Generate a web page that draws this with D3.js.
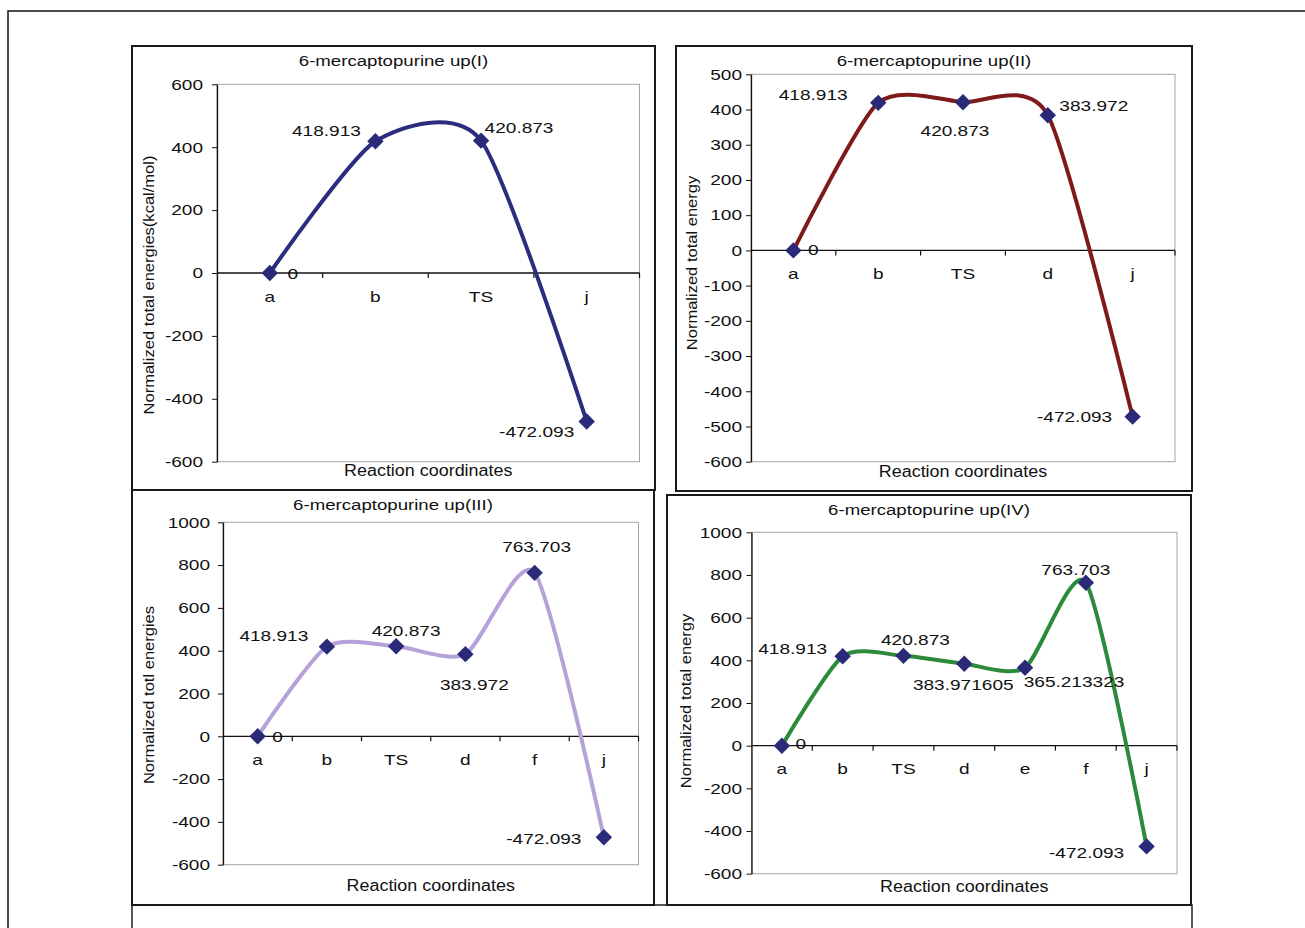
<!DOCTYPE html>
<html>
<head>
<meta charset="utf-8">
<script src="https://cdn.jsdelivr.net/npm/d3@7"></script>
<style>
  body { margin: 0; background: #fff; }
  text { font-family: "Liberation Sans", Arial, sans-serif; fill: #111; }
</style>
</head>
<body>
<div id="chart"></div>
<script>
// data
const catsI = ["a", "b", "TS", "j"];
const valsI = [0, 418.913, 420.873, -472.093];
const ticksI = [-600, -400, -200, 0, 200, 400, 600];

const catsII = ["a", "b", "TS", "d", "j"];
const valsII = [0, 418.913, 420.873, 383.972, -472.093];
const ticksII = [-600, -500, -400, -300, -200, -100, 0, 100, 200, 300, 400, 500];

const catsIII = ["a", "b", "TS", "d", "f", "j"];
const valsIII = [0, 418.913, 420.873, 383.972, 763.703, -472.093];
const ticksIII = [-600, -400, -200, 0, 200, 400, 600, 800, 1000];

const catsIV = ["a", "b", "TS", "d", "e", "f", "j"];
const valsIV = [0, 418.913, 420.873, 383.971605, 365.213323, 763.703, -472.093];
const ticksIV = [-600, -400, -200, 0, 200, 400, 600, 800, 1000];

const titles = ["6-mercaptopurine up(I)", "6-mercaptopurine up(II)", "6-mercaptopurine up(III)", "6-mercaptopurine up(IV)"];
const yTitles = ["Normalized total energies(kcal/mol)", "Normalized total energy", "Normalized totl energies", "Normalized total energy"];
const xTitle = "Reaction coordinates";

const width = 1305, height = 928;

// layout of each panel (box, plot area, label nudges)
const panels = [
  { cats: catsI, vals: valsI, ticks: ticksI, color: "#2d2d80",
    box: [132, 46, 655, 490], plot: [217, 84.3, 639.5, 461.7], tickPad: 9,
    xtDy: 9, ytX: 149, ytY: 285,
    lab: [[23, 0], [-49, -11], [38, -13], [-50, 10]] },
  { cats: catsII, vals: valsII, ticks: ticksII, color: "#7e1a1a",
    box: [676, 46, 1192, 491], plot: [751, 74.3, 1175, 461.7], tickPad: 4,
    xtDy: 10, ytX: 692, ytY: 263,
    lab: [[20, -1], [-65, -8], [-8, 28], [46, -10], [-58, 0]] },
  { cats: catsIII, vals: valsIII, ticks: ticksIII, color: "#b4a2d8",
    box: [132, 490, 654, 905], plot: [223, 522.3, 638.5, 864.7], tickPad: 8,
    xtDy: 21, ytX: 149, ytY: 695,
    lab: [[20, 0], [-53, -11], [10, -16], [9, 30], [2, -26], [-60, 1]] },
  { cats: catsIV, vals: valsIV, ticks: ticksIV, color: "#2b8a3c",
    box: [667, 495, 1191, 905], plot: [751.5, 532.3, 1177, 873.7], tickPad: 4.5,
    xtDy: 13, ytX: 686, ytY: 701,
    lab: [[19, -2], [-50, -8], [12, -16], [-1, 21], [49, 14], [-10, -13], [-60, 6]] }
];

const svg = d3.select("#chart").append("svg")
  .attr("width", width)
  .attr("height", height);

// page frame and the table lines around the figure
svg.append("path")
  .attr("d", "M8,928V11H1305")
  .attr("fill", "none").attr("stroke", "#111").attr("stroke-width", 1.5);
svg.append("path")
  .attr("d", "M132,928V905H1192V928")
  .attr("fill", "none").attr("stroke", "#222").attr("stroke-width", 1.5);

// the scan has wide, stretched lettering
function stretch(sel, k) {
  sel.each(function() {
    const w = this.getComputedTextLength();
    d3.select(this).attr("textLength", w * k).attr("lengthAdjust", "spacingAndGlyphs");
  });
}

panels.forEach((p, i) => {
  const [bx0, by0, bx1, by1] = p.box;
  const [px0, py0, px1, py1] = p.plot;
  const g = svg.append("g");

  g.append("rect")
    .attr("x", bx0).attr("y", by0)
    .attr("width", bx1 - bx0).attr("height", by1 - by0)
    .attr("fill", "#fff").attr("stroke", "#1a1a1a").attr("stroke-width", 2);

  let x = d3.scaleBand().domain(p.cats).range([px0, px1]).padding(0);
  let y = d3.scaleLinear().domain([p.ticks[0], p.ticks[p.ticks.length - 1]]).range([py1, py0]);
  const cx = c => x(c) + x.bandwidth() / 2;

  // plot area frame
  g.append("rect")
    .attr("x", px0).attr("y", py0)
    .attr("width", px1 - px0).attr("height", py1 - py0)
    .attr("fill", "none").attr("stroke", "#a3a3a3").attr("stroke-width", 1);

  // y axis, plain hyphen minus and no thousands separator like the original
  const ya = g.append("g")
    .attr("transform", `translate(${px0},0)`)
    .call(d3.axisLeft(y).tickValues(p.ticks).tickFormat(d => String(d))
      .tickSize(5).tickSizeOuter(0).tickPadding(p.tickPad));
  ya.select(".domain").attr("stroke", "#111").attr("stroke-width", 1.3);
  ya.selectAll(".tick line").attr("stroke", "#111");
  ya.selectAll("text")
    .attr("font-size", 15)
    .attr("font-family", "'Liberation Sans', Arial, sans-serif")
    .attr("fill", "#111")
    .call(stretch, 1.27);

  // zero line with category ticks hanging below it
  g.append("line")
    .attr("x1", px0).attr("x2", px1)
    .attr("y1", y(0)).attr("y2", y(0))
    .attr("stroke", "#111").attr("stroke-width", 1.3);
  g.selectAll(".ctick")
    .data(p.cats)
    .join("line")
    .attr("x1", c => x(c) + x.bandwidth()).attr("x2", c => x(c) + x.bandwidth())
    .attr("y1", y(0)).attr("y2", y(0) + 5)
    .attr("stroke", "#111").attr("stroke-width", 1.2);
  g.selectAll(".clab")
    .data(p.cats)
    .join("text")
    .attr("x", c => cx(c))
    .attr("y", y(0) + 23)
    .attr("text-anchor", "middle")
    .attr("dominant-baseline", "central")
    .attr("font-size", 15)
    .text(c => c)
    .call(stretch, 1.27);

  const pts = p.cats.map((c, j) => ({ c: c, v: p.vals[j], off: p.lab[j] }));

  let line = d3.line()
    .x(d => cx(d.c))
    .y(d => y(d.v))
    .curve(d3.curveCardinal.tension(0.3)); // smoothed like the spreadsheet line

  g.append("path")
    .datum(pts)
    .attr("fill", "none")
    .attr("stroke", p.color)
    .attr("stroke-width", 4)
    .attr("stroke-linejoin", "round")
    .attr("d", line);

  g.selectAll(".mark")
    .data(pts)
    .join("path")
    .attr("d", d3.symbol(d3.symbolSquare, 135))
    .attr("transform", d => `translate(${cx(d.c)},${y(d.v)}) rotate(45)`)
    .attr("fill", "#2a2a78");

  g.selectAll(".vlab")
    .data(pts)
    .join("text")
    .attr("x", d => cx(d.c) + d.off[0])
    .attr("y", d => y(d.v) + d.off[1])
    .attr("text-anchor", "middle")
    .attr("dominant-baseline", "central")
    .attr("font-size", 15)
    .text(d => String(d.v))
    .call(stretch, 1.27);

  // titles
  g.append("text")
    .attr("x", (bx0 + bx1) / 2)
    .attr("y", by0 + 15)
    .attr("text-anchor", "middle")
    .attr("dominant-baseline", "central")
    .attr("font-size", 14)
    .text(titles[i])
    .call(stretch, 1.33);

  g.append("text")
    .attr("x", (px0 + px1) / 2)
    .attr("y", py1 + p.xtDy)
    .attr("text-anchor", "middle")
    .attr("dominant-baseline", "central")
    .attr("font-size", 16)
    .text(xTitle)
    .call(stretch, 1.12);

  g.append("text")
    .attr("transform", `translate(${p.ytX},${p.ytY}) rotate(-90)`)
    .attr("text-anchor", "middle")
    .attr("dominant-baseline", "central")
    .attr("font-size", 14)
    .text(yTitles[i])
    .call(stretch, 1.18);
});
</script>
</body>
</html>
